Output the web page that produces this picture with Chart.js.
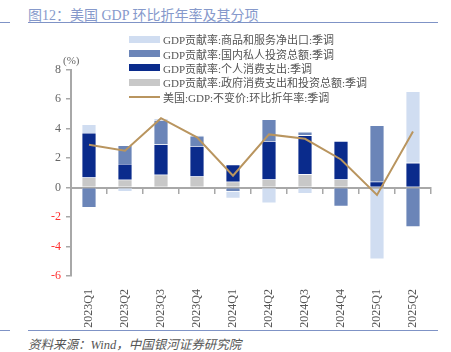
<!DOCTYPE html>
<html>
<head>
<meta charset="utf-8">
<script src="https://cdn.jsdelivr.net/npm/chart.js@4/dist/chart.umd.min.js"></script>
<style>
    body { margin: 0; width: 451px; height: 352px; position: relative; overflow: hidden; background: #fff;
           font-family: "Liberation Serif", "Noto Sans CJK SC", serif; }
    .rule { position: absolute; height: 0; border-top: 1.5px solid #7f93c6; }
    #title { position: absolute; left: 28px; top: 4px; font-size: 14px; color: #8699cb; white-space: nowrap; }
    #source { position: absolute; left: 28px; top: 334px; font-size: 12.5px; color: #555; font-style: italic; white-space: nowrap; }
    #unit { position: absolute; left: 63px; top: 54px; font-size: 11px; color: #666; }
    #legend { position: absolute; left: 129px; top: 32px; font-size: 11px; color: #555; }
    .item { height: 14.4px; display: flex; align-items: center; white-space: nowrap; }
    .swatch { width: 31px; margin-right: 3px; }
    #chartBox { position: absolute; left: 0; top: 0; width: 451px; height: 330px; }
</style>
</head>
<body>
<div class="rule" style="left:0;top:22px;width:10px"></div>
<div class="rule" style="left:28px;top:22px;width:410px"></div>
<div id="title">图12：美国 GDP 环比折年率及其分项</div>
<div id="chartBox"><canvas id="gdpChart"></canvas></div>
<div id="unit">(%)</div>
<div id="legend"></div>
<div class="rule" style="left:0;top:330px;width:10px"></div>
<div class="rule" style="left:28px;top:330px;width:410px"></div>
<div id="source">资料来源：Wind，中国银河证券研究院</div>

<script>
// quarters on the x axis
const quarters = ["2023Q1", "2023Q2", "2023Q3", "2023Q4", "2024Q1", "2024Q2", "2024Q3", "2024Q4", "2025Q1", "2025Q2"];

// contributions to GDP growth (percentage points)
const netExports = [0.57, -0.27, 0.11, 0.03, -0.46, -1.05, -0.41, 0, -4.78, 4.84];
const privateInvestment = [-1.37, 1.26, 1.65, 0.68, -0.27, 1.46, 0.23, -1.27, 3.82, -2.67];
const personalConsumption = [3.02, 1.07, 2.05, 2.06, 1.16, 2.60, 2.65, 2.60, 0.39, 1.67];
const governmentSpending = [0.68, 0.53, 0.87, 0.75, 0.39, 0.55, 0.89, 0.55, -0.08, 0];

// real GDP, q/q annualised
const gdpGrowth = [2.9, 2.5, 4.7, 3.4, 0.8, 3.6, 3.3, 1.9, -0.5, 3.8];

const yTicks = [-6, -4, -2, 0, 2, 4, 6, 8];

const labelFont = { family: "'Liberation Serif', 'Noto Sans CJK SC', serif", size: 12 };

function barSet(label, data, color) {
    return {
        type: "bar",
        label: label,
        data: data,
        backgroundColor: color,
        borderColor: "#ffffff",
        borderWidth: 0.6,
        stack: "parts",
        order: 1,
        categoryPercentage: 1,
        barPercentage: 0.4
    };
}

// stacking goes from the first dataset upwards
const datasets = [
    barSet("GDP贡献率:政府消费支出和投资总额:季调", governmentSpending, "#c8c8c8"),
    barSet("GDP贡献率:个人消费支出:季调", personalConsumption, "#0a2b8c"),
    barSet("GDP贡献率:国内私人投资总额:季调", privateInvestment, "#6b85b8"),
    barSet("GDP贡献率:商品和服务净出口:季调", netExports, "#d0ddf1"),
    {
        type: "line",
        label: "美国:GDP:不变价:环比折年率:季调",
        data: gdpGrowth,
        borderColor: "#b9955f",
        borderWidth: 2,
        pointRadius: 0,
        tension: 0,
        stack: "gdp",
        order: 0
    }
];

function legendAppend(html) {
    document.getElementById("legend").insertAdjacentHTML("beforeend", html);
}

// legend shows the parts top-down, then the line
const legendOrder = [3, 2, 1, 0, 4];
legendOrder.forEach(function(i) {
    let ds = datasets[i];
    let swatch = ds.type == "line"
        ? '<div class="swatch" style="height:0;border-top:2px solid ' + ds.borderColor + '"></div>'
        : '<div class="swatch" style="height:7px;background:' + ds.backgroundColor + '"></div>';
    legendAppend('<div class="item">' + swatch + '<span>' + ds.label + '</span></div>');
});

new Chart(document.getElementById("gdpChart"), {
    data: { labels: quarters, datasets: datasets },
    options: {
        responsive: true,
        maintainAspectRatio: false,
        animation: false,
        layout: { padding: { top: 69.5, right: 20, left: 0, bottom: 0 } },
        plugins: { legend: { display: false }, tooltip: { enabled: false } },
        scales: {
            x: {
                position: { y: 0 },
                stacked: true,
                offset: true,
                border: { color: "#a8a8a8", width: 2 },
                grid: { drawOnChartArea: false, offset: true, tickLength: 5, color: "#a8a8a8", lineWidth: 1.5 },
                ticks: { display: false }
            },
            x2: {
                type: "category",
                labels: quarters,
                position: "bottom",
                offset: true,
                border: { display: false },
                grid: { display: false },
                ticks: { minRotation: 90, maxRotation: 90, padding: 5, color: "#555", font: labelFont, autoSkip: false },
                afterFit: function(scale) { scale.height = 54; }
            },
            y: {
                stacked: true,
                min: -6,
                max: 8,
                afterBuildTicks: function(scale) { scale.ticks = yTicks.map(v => ({ value: v })); },
                afterFit: function(scale) { scale.width = 71; },
                border: { color: "#a8a8a8", width: 2 },
                grid: { drawOnChartArea: false, tickLength: 5, color: "#a8a8a8", lineWidth: 1.5 },
                ticks: {
                    padding: 5,
                    font: labelFont,
                    color: function(ctx) { return ctx.tick.value < 0 ? "#ff3030" : "#666"; }
                }
            }
        }
    }
});
</script>
</body>
</html>
